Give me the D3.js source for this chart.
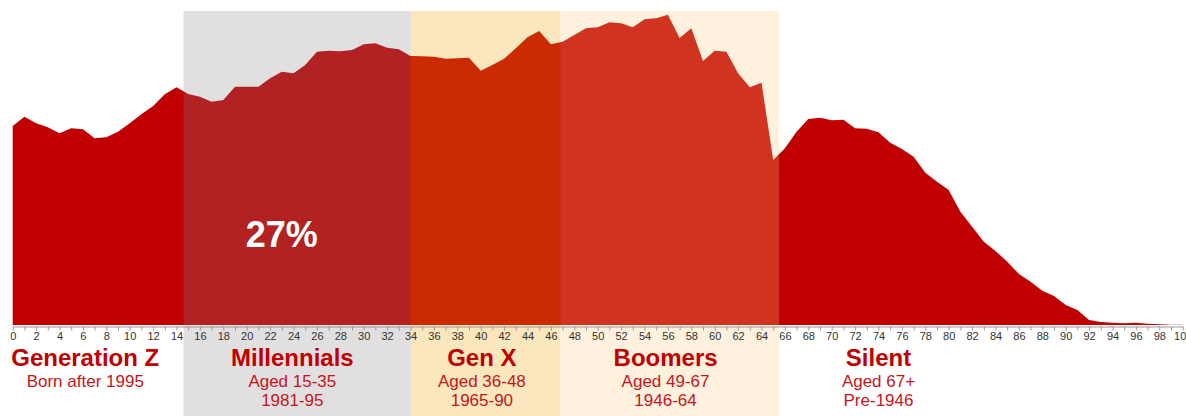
<!DOCTYPE html>
<html>
<head>
<meta charset="utf-8">
<script src="https://cdn.jsdelivr.net/npm/d3@7"></script>
<style>
  body { margin: 0; background: #fff; }
  .axis text { font-family: "Liberation Sans", Arial, sans-serif; font-size: 11px; fill: #333; }
  .axis path, .axis line { stroke: #999; }
  .gen-title { font-family: "Liberation Sans", Arial, sans-serif; font-weight: bold; font-size: 24px; fill: #c00000; }
  .gen-sub { font-family: "Liberation Sans", Arial, sans-serif; font-size: 17px; fill: #c4161c; }
</style>
</head>
<body>
<div id="chart"></div>
<script>
'use strict';

// population by single year of age (thousands)
var ages = d3.range(0, 101);
var population = [
  2980, 3118, 3019, 2959, 2869, 2944, 2929, 2795, 2810, 2894,
  3019, 3154, 3278, 3453, 3558, 3458, 3418, 3343, 3368, 3567,
  3567, 3567, 3693, 3792, 3768, 3892, 4091, 4106, 4097, 4117,
  4202, 4217, 4151, 4127, 4027, 4022, 4017, 3987, 3994, 4002,
  3807, 3892, 3987, 4142, 4307, 4401, 4202, 4241, 4341, 4442,
  4457, 4531, 4516, 4457, 4576, 4591, 4645, 4296, 4442, 3952,
  4106, 4091, 3768, 3558, 3627, 2470, 2645, 2894, 3084, 3103,
  3064, 3073, 2945, 2939, 2885, 2729, 2635, 2519, 2280, 2145,
  2021, 1696, 1472, 1247, 1108, 948, 763, 648, 513, 434,
  299, 225, 75, 45, 34, 25, 34, 19, 10, 5,
  2
];

// generations
var genNames  = ['Generation Z', 'Millennials', 'Gen X', 'Boomers', 'Silent'];
var genLine1  = ['Born after 1995', 'Aged 15-35', 'Aged 36-48', 'Aged 49-67', 'Aged 67+'];
var genLine2  = ['', '1981-95', '1965-90', '1946-64', 'Pre-1946'];
var genLabelAge = [6.2, 23.9, 40.1, 55.8, 74];

// shaded bands (age from / to)
var bandFrom  = [14.6, 34, 46.8];
var bandTo    = [34, 46.8, 65.5];
var bandColor = ['rgb(140,131,131)', 'rgb(238,163,0)', 'rgb(254,200,123)'];

var shareLabel = '27%';
var shareAge = 23;

function generationChart()
{
    var scope = this;
    var exports = {};

    scope.width  = 1186;
    scope.height = 416;
    scope.base   = 325;
    scope.top    = 11;

    scope.xScale = d3.scaleLinear().domain([0, 100]).range([12.7, 1182.7]);
    scope.yScale = d3.scaleLinear().domain([0, 4700]).range([scope.base, scope.top]);

    scope.appendSvg = function(div)
    {
        return d3.select(div).append('svg')
            .attr('width', scope.width)
            .attr('height', scope.height);
    }

    scope.appendArea = function(svg)
    {
        var area = d3.area()
            .x(function(d, i) { return scope.xScale(ages[i]); })
            .y0(scope.yScale(0))
            .y1(function(d) { return scope.yScale(d); });

        svg.append('path')
            .datum(population)
            .attr('d', area)
            .attr('fill', '#c00000');
    }

    scope.appendBands = function(svg)
    {
        svg.selectAll('.band')
            .data(bandFrom)
            .enter().append('rect')
            .attr('class', 'band')
            .attr('x', function(d) { return scope.xScale(d); })
            .attr('y', scope.top)
            .attr('width', function(d, i) { return scope.xScale(bandTo[i]) - scope.xScale(d); })
            .attr('height', scope.height - scope.top)
            .attr('fill', function(d, i) { return bandColor[i]; })
            .attr('fill-opacity', 0.26);
    }

    scope.appendAxis = function(svg)
    {
        var axis = d3.axisBottom(scope.xScale)
            .tickValues(d3.range(0, 101))
            .tickSize(4)
            .tickSizeOuter(0)
            .tickFormat(function(d) { return d % 2 === 0 ? d : ''; });

        var g = svg.append('g')
            .attr('class', 'axis')
            .attr('transform', 'translate(0,' + (scope.base + 1.5) + ')')
            .call(axis);

        g.selectAll('text').attr('dy', '0.71em').attr('y', 6);
    }

    scope.appendLabels = function(svg)
    {
        var lab = svg.selectAll('.gen')
            .data(genNames)
            .enter().append('g')
            .attr('class', 'gen')
            .attr('transform', function(d, i) { return 'translate(' + scope.xScale(genLabelAge[i]) + ',0)'; })
            .attr('text-anchor', 'middle');

        lab.append('text').attr('class', 'gen-title').attr('y', 366).text(function(d) { return d; });
        lab.append('text').attr('class', 'gen-sub').attr('y', 387).text(function(d, i) { return genLine1[i]; });
        lab.append('text').attr('class', 'gen-sub').attr('y', 406).text(function(d, i) { return genLine2[i]; });

        svg.append('text')
            .attr('x', scope.xScale(shareAge))
            .attr('y', 247)
            .attr('text-anchor', 'middle')
            .style('font', 'bold 36px "Liberation Sans", Arial, sans-serif')
            .attr('fill', '#fff')
            .text(shareLabel);
    }

    exports.run = function(div)
    {
        var svg = scope.appendSvg(div);
        scope.appendArea(svg);
        scope.appendBands(svg);
        scope.appendAxis(svg);
        scope.appendLabels(svg);
    }

    return exports;
}

new generationChart().run('#chart');
</script>
</body>
</html>
